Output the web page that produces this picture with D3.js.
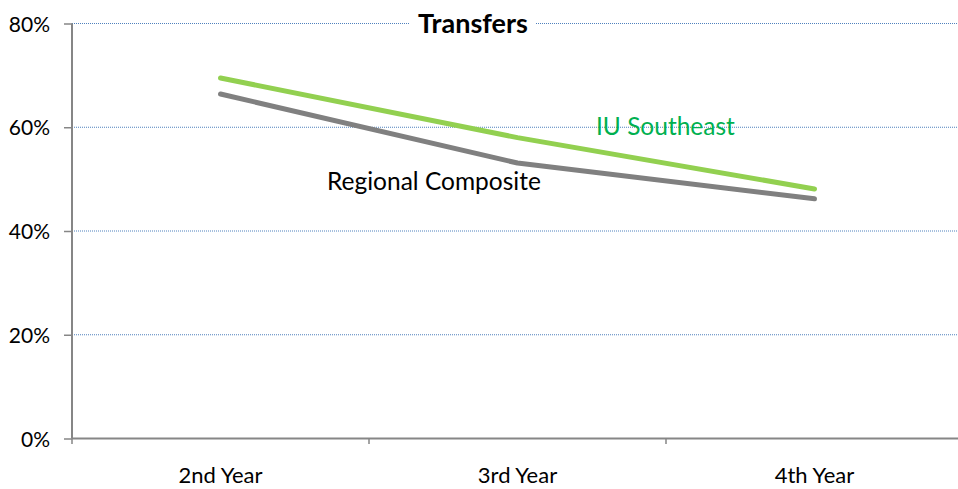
<!DOCTYPE html>
<html><head><meta charset="utf-8">
<script src="https://cdn.jsdelivr.net/npm/d3@7"></script>
<style>body{margin:0;background:#fff}svg{display:block}text{font-family:Lato,"Open Sans",sans-serif}</style>
</head><body><svg id="c" width="958" height="489"></svg>
<script>
const categories = ["2nd Year","3rd Year","4th Year"];
const iuSoutheast = [69.5, 58.0, 48.1];
const regionalComposite = [66.4, 53.1, 46.2];
const yTicks = [0,20,40,60,80];
const seriesNames = ["IU Southeast","Regional Composite"];
const title = "Transfers";

const svg = d3.select("#c");
const x = d3.scaleBand().domain(categories).range([72,963]);
const y = d3.scaleLinear().domain([0,80]).range([438.5,23.5]);
const cx = d => x(d) + x.bandwidth()/2;

// gridlines
svg.append("g").selectAll("line").data(yTicks.filter(t=>t>0)).join("line")
  .attr("x1",72).attr("x2",958).attr("y1",d=>y(d)).attr("y2",d=>y(d))
  .attr("stroke","#4F81BD").attr("stroke-width",1).attr("stroke-dasharray","1,1");

// y axis
const ya = svg.append("g").attr("transform","translate(72,0)")
  .call(d3.axisLeft(y).tickValues(yTicks).tickSize(8).tickPadding(14).tickFormat(d=>d+"%"));
ya.select(".domain").attr("stroke","#868686").attr("stroke-width",2).attr("d","M0,23.5V438.5");
ya.selectAll(".tick line").attr("stroke","#868686").attr("stroke-width",1.5);
ya.selectAll(".tick text").attr("font-size",21).attr("fill","#000").attr("font-family","Lato,sans-serif").attr("dy","0.36em");

// x axis
const xa = svg.append("g").attr("transform","translate(0,438.5)")
  .call(d3.axisBottom(x).tickSize(0));
xa.select(".domain").attr("stroke","#868686").attr("stroke-width",2).attr("d","M72,0H958");
xa.selectAll(".tick text").attr("font-size",22).attr("fill","#000").attr("font-family","Lato,sans-serif")
  .attr("y",44).attr("dy",0);
// tick marks at band boundaries
svg.append("g").selectAll("line").data(categories).join("line")
  .attr("x1",d=>x(d)).attr("x2",d=>x(d)).attr("y1",438.5).attr("y2",444)
  .attr("stroke","#868686").attr("stroke-width",1.5);

// title
svg.append("rect").attr("x",410).attr("y",8).attr("width",126).attr("height",32).attr("fill","#fff");
svg.append("text").attr("x",473).attr("y",33).attr("text-anchor","middle")
  .attr("font-size",27).attr("font-weight","bold").attr("fill","#000").text(title);

// lines
const line = d3.line().x((d,i)=>cx(categories[i])).y(d=>y(d));
svg.append("path").datum(regionalComposite).attr("d",line).attr("fill","none")
  .attr("stroke","#808080").attr("stroke-width",5).attr("stroke-linecap","round").attr("stroke-linejoin","round");
svg.append("path").datum(iuSoutheast).attr("d",line).attr("fill","none")
  .attr("stroke","#92D050").attr("stroke-width",5).attr("stroke-linecap","round").attr("stroke-linejoin","round");

// labels
svg.append("text").attr("x",596).attr("y",135).attr("font-size",24.5).attr("fill","#00B050").text(seriesNames[0]);
svg.append("text").attr("x",327).attr("y",190).attr("font-size",24.5).attr("fill","#000").text(seriesNames[1]);
</script></body></html>
